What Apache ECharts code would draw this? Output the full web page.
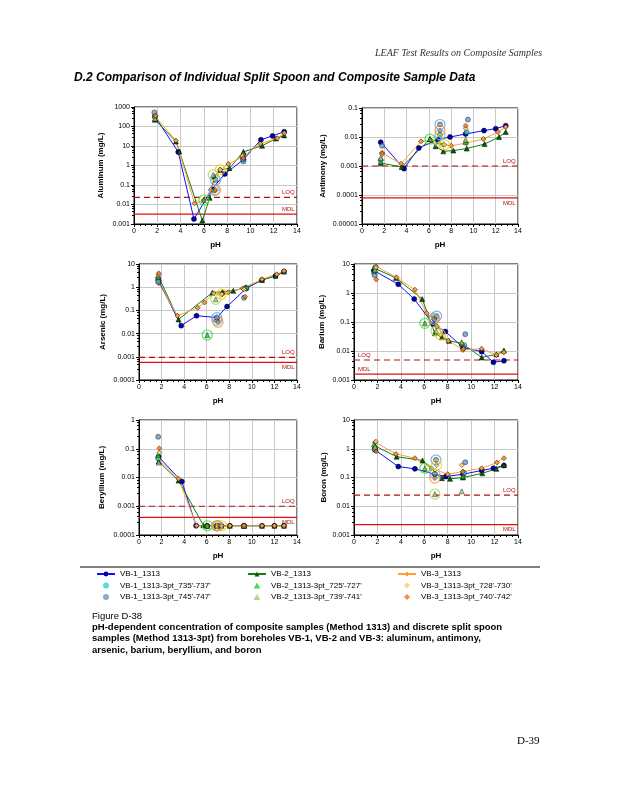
<!DOCTYPE html>
<html><head><meta charset="utf-8">
<script src="https://cdn.jsdelivr.net/npm/echarts@6/dist/echarts.min.js"></script>
<style>html,body{margin:0;padding:0;background:#fff}#c{width:618px;height:800px}</style>
</head><body><div id="c"></div><script>
// ---------- DATA (pH, concentration mg/L) ----------
// Aluminum
const al_vb1 = [[1.8,330],[3.8,4.9],[5.15,0.0018],[6.7,0.06],[7.8,0.37],[9.4,2.0],[10.9,21],[11.9,33],[12.9,54]];
const al_vb2 = [[1.8,224],[3.6,17],[3.9,5.2],[5.87,0.0015],[6.5,0.022],[6.9,0.27],[7.4,0.6],[8.2,0.73],[9.4,5],[11.0,10.3],[12.2,24],[12.9,35]];
const al_vb3 = [[1.8,330],[3.6,19],[5.2,0.0115],[6.0,0.017],[6.6,0.056],[7.4,0.6],[8.1,1.2],[9.3,2.7],[10.85,13],[12.3,25],[12.9,46]];
const al_735 = [[1.8,300],[6.9,0.052],[9.4,1.6]];
const al_745 = [[1.75,530],[7.0,0.18],[9.35,2.1]];
const al_725 = [[1.8,240],[6.0,0.017],[9.4,4.3]];
const al_739 = [[1.8,260],[6.8,0.33],[9.35,3.8]];
const al_728 = [[1.85,350],[7.4,0.6],[9.3,3.1]];
const al_740 = [[1.85,360],[7.0,0.056],[9.4,2.4]];
const al_lim = [0.023, 0.0032];
// Antimony
const sb_vb1 = [[1.68,0.0066],[3.77,0.00081],[5.1,0.0042],[6.8,0.0081],[7.9,0.01],[9.3,0.0127],[10.95,0.0166],[12.0,0.0194],[12.9,0.0246]];
const sb_vb2 = [[1.68,0.00126],[3.56,0.00093],[6.1,0.0085],[6.6,0.0048],[7.3,0.0032],[8.2,0.0034],[9.4,0.004],[11.0,0.0057],[12.3,0.01],[12.9,0.0149]];
const sb_vb3 = [[1.8,0.0028],[3.5,0.0012],[5.3,0.0071],[6.2,0.0075],[7.3,0.0054],[8.0,0.005],[9.35,0.0062],[10.9,0.0085],[12.2,0.0149],[12.9,0.022]];
const sb_735 = [[1.68,0.0016],[7.0,0.012],[9.4,0.0145]];
const sb_745 = [[1.8,0.005],[7.0,0.027],[9.5,0.04]];
const sb_725 = [[1.68,0.0014],[6.1,0.0085],[9.3,0.0066]];
const sb_739 = [[1.68,0.0019],[6.9,0.007],[9.3,0.008]];
const sb_728 = [[1.8,0.0025],[7.4,0.0054],[9.3,0.02]];
const sb_740 = [[1.8,0.0028],[7.0,0.0166],[9.3,0.0246]];
const sb_lim = [0.001, 0.000079];
// Arsenic
const as_vb1 = [[1.74,1.85],[3.74,0.022],[5.1,0.059],[6.9,0.049],[7.8,0.146],[9.5,0.89],[10.9,2.05],[12.1,3.1],[12.85,4.7]];
const as_vb2 = [[1.7,3.1],[3.5,0.041],[6.5,0.58],[7.4,0.64],[8.35,0.7],[9.5,0.99],[10.9,2.05],[12.1,3.1],[12.85,4.7]];
const as_vb3 = [[1.74,1.5],[3.4,0.059],[5.2,0.13],[5.8,0.22],[6.6,0.55],[7.4,0.5],[7.9,0.6],[9.2,0.89],[10.9,2.2],[12.2,3.6],[12.85,5.0]];
const as_735 = [[1.7,2.0],[6.9,0.038],[9.5,0.89]];
const as_745 = [[1.7,1.7],[6.9,0.049],[9.3,0.35]];
const as_725 = [[1.7,2.8],[6.05,0.0087],[9.4,0.95]];
const as_739 = [[1.7,3.3],[6.8,0.3],[9.4,0.9]];
const as_728 = [[1.75,3.5],[7.3,0.5],[9.3,0.8]];
const as_740 = [[1.75,4.0],[7.0,0.031],[9.4,0.39]];
const as_lim = [0.00095, 0.00058];
// Barium
const ba_vb1 = [[1.7,5.9],[3.78,2.0],[5.14,0.62],[6.76,0.083],[7.8,0.047],[9.3,0.0132],[10.9,0.0095],[11.9,0.0041],[12.8,0.0046]];
const ba_vb2 = [[1.7,7.3],[3.58,3.3],[5.82,0.62],[6.9,0.041],[7.5,0.03],[8.1,0.0225],[9.2,0.0185],[10.9,0.006],[12.15,0.0077],[12.8,0.0104]];
const ba_vb3 = [[1.87,8.3],[3.64,3.45],[5.2,1.3],[6.2,0.2],[6.85,0.125],[7.1,0.07],[8.05,0.0225],[9.3,0.011],[10.9,0.012],[12.15,0.0073],[12.8,0.0091]];
const ba_735 = [[1.8,6.9],[6.85,0.135],[9.4,0.016]];
const ba_745 = [[1.75,4.1],[7.05,0.16],[9.5,0.038]];
const ba_725 = [[1.7,5.6],[6.05,0.09],[9.2,0.0185]];
const ba_739 = [[1.8,6.4],[7.0,0.05],[9.2,0.02]];
const ba_728 = [[1.87,7.7],[7.4,0.036],[9.3,0.011]];
const ba_740 = [[1.9,2.9],[6.85,0.12],[9.35,0.012]];
const ba_lim = [0.0049, 0.0016];
// Beryllium
const be_vb1 = [[1.74,0.053],[3.8,0.0072],[5.06,0.00021],[6.05,0.00021],[6.9,0.00021],[7.3,0.00021],[8.05,0.00021],[9.3,0.00021],[10.9,0.00021],[12.0,0.00021],[12.85,0.00021]];
const be_vb2 = [[1.74,0.036],[3.5,0.0078],[5.7,0.00022],[6.05,0.00021],[6.9,0.00021],[7.3,0.00021],[8.05,0.00021],[9.3,0.00021],[10.9,0.00021],[12.0,0.00021],[12.85,0.00021]];
const be_vb3 = [[1.74,0.043],[3.5,0.009],[5.1,0.00021],[6.05,0.00021],[6.9,0.00021],[7.3,0.00021],[8.05,0.00021],[9.3,0.00021],[10.9,0.00021],[12.0,0.00021],[12.85,0.00021]];
const be_735 = [[1.7,0.047],[6.9,0.00021],[9.3,0.00021]];
const be_745 = [[1.7,0.26],[7.0,0.00021],[9.3,0.00021]];
const be_725 = [[1.7,0.061],[6.05,0.00021],[9.3,0.00021]];
const be_739 = [[1.75,0.033],[6.9,0.00021],[9.3,0.00021]];
const be_728 = [[1.8,0.074],[7.3,0.00021],[9.3,0.00021]];
const be_740 = [[1.8,0.104],[6.9,0.00021],[9.3,0.00021]];
const be_lim = [0.001, 0.00041];
// Boron
const b_vb1 = [[1.8,0.91],[3.78,0.24],[5.2,0.2],[6.9,0.13],[7.84,0.108],[9.3,0.13],[10.9,0.175],[11.9,0.21],[12.8,0.26]];
const b_vb2 = [[1.8,1.25],[3.64,0.53],[5.85,0.39],[7.5,0.095],[8.2,0.09],[9.3,0.1],[10.95,0.14],[12.15,0.2],[12.8,0.27]];
const b_vb3 = [[1.8,1.68],[3.58,0.66],[5.2,0.47],[6.6,0.21],[8.0,0.13],[9.3,0.16],[10.9,0.21],[12.2,0.33],[12.8,0.47]];
const b_735 = [[1.8,1.1],[6.9,0.135],[9.4,0.14]];
const b_745 = [[1.75,0.96],[7.0,0.41],[9.5,0.34]];
const b_725 = [[1.7,1.43],[6.05,0.21],[9.3,0.11]];
const b_739 = [[1.8,1.18],[6.9,0.0265],[9.2,0.033]];
const b_728 = [[1.87,1.78],[7.05,0.27],[9.2,0.27]];
const b_740 = [[1.9,0.8],[6.9,0.095],[9.3,0.16]];
const b_lim = [0.0245, 0.0023];

const limitNames = ['LOQ', 'MDL'];
const compNames = ['VB-1_1313','VB-2_1313','VB-3_1313'];
const ptNames = ["VB-1_1313-3pt_735'-737'","VB-1_1313-3pt_745'-747'","VB-2_1313-3pt_725'-727'","VB-2_1313-3pt_739'-741'","VB-3_1313-3pt_728'-730'","VB-3_1313-3pt_740'-742'"];
const PH_MIN = 0, PH_MAX = 14;

// ---------- STYLE / LAYOUT ----------
const panels = [
  {name:'Aluminum (mg/L)',  box:[134,107,163,117], ymin:0.001,  ymax:1000, comp:[al_vb1,al_vb2,al_vb3], pt:[al_735,al_745,al_725,al_739,al_728,al_740], lim:al_lim, lab:['endTop','endTop'], nd:34},
  {name:'Antimony (mg/L)',  box:[362,108,156,116], ymin:0.00001,ymax:0.1,  comp:[sb_vb1,sb_vb2,sb_vb3], pt:[sb_735,sb_745,sb_725,sb_739,sb_728,sb_740], lim:sb_lim, lab:['endTop','endBottom'], nd:40},
  {name:'Arsenic (mg/L)',   box:[139,264,158,116], ymin:0.0001, ymax:10,   comp:[as_vb1,as_vb2,as_vb3], pt:[as_735,as_745,as_725,as_739,as_728,as_740], lim:as_lim, lab:['endTop','endBottom'], nd:37},
  {name:'Barium (mg/L)',    box:[354,264,164,116], ymin:0.001,  ymax:10,   comp:[ba_vb1,ba_vb2,ba_vb3], pt:[ba_735,ba_745,ba_725,ba_739,ba_728,ba_740], lim:ba_lim, lab:['startTop','startTop'], nd:33},
  {name:'Beryllium (mg/L)', box:[139,420,158,115], ymin:0.0001, ymax:1,    comp:[be_vb1,be_vb2,be_vb3], pt:[be_735,be_745,be_725,be_739,be_728,be_740], lim:be_lim, lab:['endTop','endBottom'], nd:38},
  {name:'Boron (mg/L)',     box:[354,420,164,115], ymin:0.001,  ymax:10,   comp:[b_vb1,b_vb2,b_vb3],   pt:[b_735,b_745,b_725,b_739,b_728,b_740],   lim:b_lim,  lab:['endTop','endBottom'], nd:31}
];
const compStyle = [
  {symbol:'circle',  line:'#1010ff', fill:'#0000b0'},
  {symbol:'triangle',line:'#108010', fill:'#0a5a0a'},
  {symbol:'diamond', line:'#ffa040', fill:'#ff9a30'}
];
const TRI = 'path://M5,0 L10,9 L0,9 Z';
const DIA = 'path://M5,0 L10,5 L5,10 L0,5 Z';
const ptStyle = [
  {symbol:'circle',  icon:'circle', fill:'#33d0d0', ring:'#5fb8ff'},
  {symbol:'circle',  icon:'circle', fill:'#6a96c8', ring:'#5aa0e0'},
  {symbol:'triangle',icon:TRI,      fill:'#22cc22', ring:'#33dd33'},
  {symbol:'triangle',icon:TRI,      fill:'#99d066', ring:'#99dd55'},
  {symbol:'diamond', icon:DIA,      fill:'#ffcc66', ring:'#ffcc00'},
  {symbol:'diamond', icon:DIA,      fill:'#ff6a10', ring:'#ff8c1a'}
];
const limStyle = [{type:[6,4], color:'#b01010'}, {type:'solid', color:'#e01010'}];
const labelOffset = {endTop:[-15,-8], endBottom:[-15,2], startTop:[4,-8]};
const FONT = '"Liberation Sans", Arial, sans-serif';
const fmt = v => { const n = Number(Number(v).toPrecision(1)); return n.toString(); };

const grid=[], xAxis=[], yAxis=[], series=[];
panels.forEach((p,i)=>{
  grid.push({left:p.box[0], top:p.box[1], width:p.box[2], height:p.box[3], show:true, borderColor:'#000', borderWidth:1, backgroundColor:'transparent'});
  xAxis.push({gridIndex:i, type:'value', min:PH_MIN, max:PH_MAX, interval:2,
    name:'pH', nameLocation:'middle', nameGap:17, nameTextStyle:{fontFamily:FONT, fontSize:8, fontWeight:'bold', color:'#000'},
    axisLine:{lineStyle:{color:'#000', width:1}}, axisTick:{show:true, length:3, lineStyle:{color:'#000'}},
    minorTick:{show:true, splitNumber:4, length:2, lineStyle:{color:'#000'}},
    axisLabel:{fontFamily:FONT, fontSize:7, color:'#000', margin:4},
    splitLine:{show:true, lineStyle:{color:'#c8c8c8', width:1}}});
  yAxis.push({gridIndex:i, type:'log', logBase:10, min:p.ymin, max:p.ymax, interval:1,
    name:p.name, nameLocation:'middle', nameGap:p.nd-5, nameRotate:90,
    nameTextStyle:{fontFamily:FONT, fontSize:8, fontWeight:'bold', color:'#000'},
    axisLine:{show:true, lineStyle:{color:'#000', width:1}}, axisTick:{show:true, length:3, lineStyle:{color:'#000'}},
    minorTick:{show:true, splitNumber:5, length:2, lineStyle:{color:'#000'}},
    axisLabel:{fontFamily:FONT, fontSize:7, color:'#000', margin:4, formatter:fmt},
    splitLine:{show:true, lineStyle:{color:'#c8c8c8', width:1}}});
  // limit lines (LOQ dashed, MDL solid)
  p.lim.forEach((v,j)=>{
    const atStart = p.lab[j].indexOf('start')===0;
    const pts = [[PH_MIN,v],[PH_MAX,v]];
    series.push({name:limitNames[j], type:'line', xAxisIndex:i, yAxisIndex:i, animation:false, silent:true, z:2,
      symbol:'circle', symbolSize:0.1, showSymbol:true,
      lineStyle:{type:limStyle[j].type, color:limStyle[j].color, width:1.2},
      itemStyle:{color:limStyle[j].color},
      data: pts.map((pt,m)=>({value:pt, label:{show:(atStart? m===0 : m===1), formatter:limitNames[j],
        position:labelOffset[p.lab[j]], color:'#b01010', fontSize:6, fontFamily:FONT}}))});
  });
  p.comp.forEach((d,k)=>{
    const s = compStyle[k];
    series.push({name:compNames[k], type:'line', xAxisIndex:i, yAxisIndex:i, data:d,
      symbol:s.symbol, symbolSize:5, showSymbol:true, animation:false, z:3,
      lineStyle:{color:s.line, width:1}, itemStyle:{color:s.fill, borderColor:'#000', borderWidth:0.5}});
  });
  p.pt.forEach((d,k)=>{
    const s = ptStyle[k];
    series.push({name:ptNames[k], type:'scatter', xAxisIndex:i, yAxisIndex:i, data:d,
      symbol:s.symbol, symbolSize:5, animation:false, z:4,
      itemStyle:{color:s.fill, borderColor:'#000', borderWidth:0.5}});
  });
  // natural-pH rings: middle point of each 3pt series
  series.push({name:'rings', type:'scatter', xAxisIndex:i, yAxisIndex:i, animation:false, z:5, symbol:'circle', symbolSize:10, silent:true,
    data: p.pt.map((d,k)=>({value:d[1], itemStyle:{color:'rgba(0,0,0,0)', borderColor:ptStyle[k].ring, borderWidth:1.2}}))});
});

const legendBase = {orient:'vertical', itemWidth:18, itemHeight:6, itemGap:3.5, top:570, selectedMode:false, symbolKeepAspect:true,
  itemStyle:{borderWidth:0}, textStyle:{fontFamily:FONT, fontSize:8, color:'#000'}, padding:0};
const li = k => ({name:ptNames[k], icon:ptStyle[k].icon});
const legend = [
  Object.assign({}, legendBase, {left:96,  data:[compNames[0], li(0), li(1)]}),
  Object.assign({}, legendBase, {left:247, data:[compNames[1], li(2), li(3)]}),
  Object.assign({}, legendBase, {left:397, data:[compNames[2], li(4), li(5)]})
];

const graphic = [
  {type:'text', left:375, top:48, style:{text:'LEAF Test Results on Composite Samples', font:'italic 10px "Liberation Serif", serif', fill:'#333'}},
  {type:'text', left:74, top:72, style:{text:'D.2 Comparison of Individual Split Spoon and Composite Sample Data', font:'italic bold 12px '+FONT, fill:'#000'}},
  {type:'line', shape:{x1:80, y1:567, x2:540, y2:567}, style:{stroke:'#000', lineWidth:1}},
  {type:'text', left:92, top:611, style:{text:'Figure D-38', font:'9.5px '+FONT, fill:'#000'}},
  {type:'text', left:92, top:622, style:{text:'pH-dependent concentration of composite samples (Method 1313) and discrete split spoon', font:'bold 9.5px '+FONT, fill:'#000'}},
  {type:'text', left:92, top:633.5, style:{text:'samples (Method 1313-3pt) from boreholes VB-1, VB-2 and VB-3: aluminum, antimony,', font:'bold 9.5px '+FONT, fill:'#000'}},
  {type:'text', left:92, top:645, style:{text:'arsenic, barium, beryllium, and boron', font:'bold 9.5px '+FONT, fill:'#000'}},
  {type:'text', left:517, top:736, style:{text:'D-39', font:'11px "Liberation Serif", serif', fill:'#000'}}
];

const chart = echarts.init(document.getElementById('c'), null, {renderer:'canvas'});
chart.setOption({backgroundColor:'#fff', animation:false, grid, xAxis, yAxis, series, legend, graphic});
</script></body></html>
